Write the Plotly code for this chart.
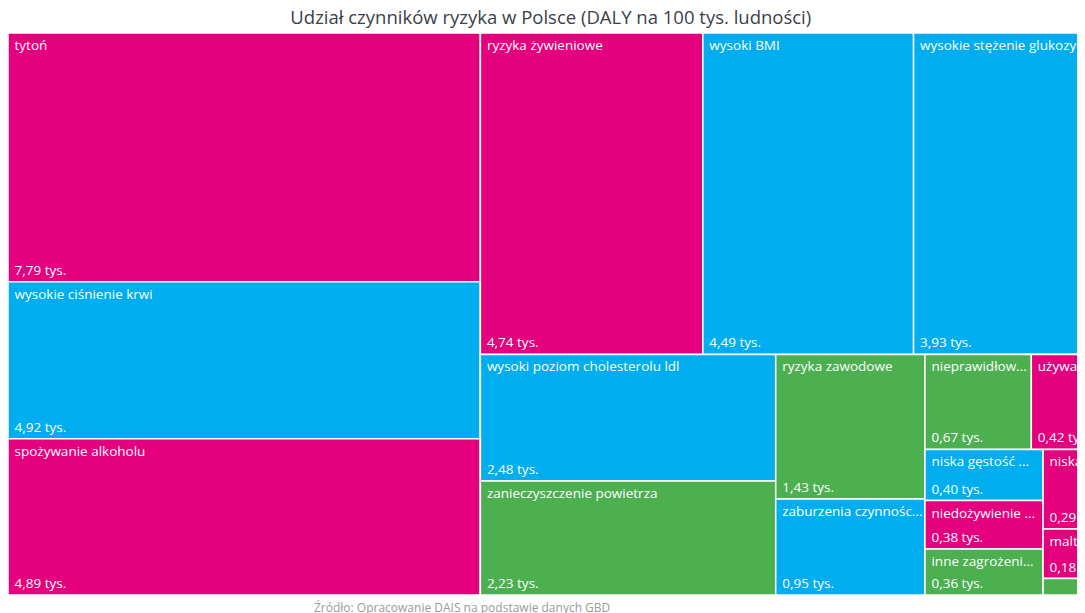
import plotly.graph_objects as go

###########################################################
# Data (DALY na 100 tys. ludności, w tys.)
###########################################################

labels = [
    "tytoń", "wysokie ciśnienie krwi", "spożywanie alkoholu",
    "ryzyka żywieniowe", "wysoki BMI", "wysokie stężenie glukozy ...",
    "wysoki poziom cholesterolu ldl", "zanieczyszczenie powietrza",
    "ryzyka zawodowe", "zaburzenia czynnośc...",
    "nieprawidłow...", "używa...",
    "niska gęstość ...", "niedożywienie ...", "inne zagrożeni...",
    "niska...", "maltr...", "", "",
]

values = [
    7.79, 4.92, 4.89,
    4.74, 4.49, 3.93,
    2.48, 2.23,
    1.43, 0.95,
    0.67, 0.42,
    0.40, 0.38, 0.36,
    0.29, 0.18, 0.04, 0.02,
]

categories = [
    "beh", "met", "beh",
    "beh", "met", "met",
    "met", "env",
    "env", "met",
    "env", "beh",
    "met", "beh", "env",
    "beh", "beh", "env", "beh",
]

colors = {"beh": "#E5007D", "met": "#00AEEF", "env": "#4CAF50"}

# grouping of tiles (rows / columns as in the original layout)
tree = ("g0", [
    ("g1", [0, 1, 2]),
    ("g2", [
        ("g2a", [3, 4, 5]),
        ("g2b", [
            ("g2b1", [6, 7]),
            ("g2b2", [8, 9]),
            ("g2b3", [
                ("g2b3a", [10, 11]),
                ("g2b3b", [
                    ("c1", [12, 13, 14]),
                    ("c2", [15, 16, ("s", [17, 18])]),
                ]),
            ]),
        ]),
    ]),
])

###########################################################
# Flatten tree
###########################################################

ids, parents, names, vals, fills, top_text, bottom_text = [], [], [], [], [], [], []


def walk(node, parent):
    if isinstance(node, tuple):
        gid, children = node
        ids.append(gid)
        parents.append(parent)
        names.append("")
        vals.append(0)
        fills.append("rgba(0,0,0,0)")
        top_text.append("")
        bottom_text.append("")
        for ch in children:
            walk(ch, gid)
    else:
        i = node
        ids.append("n%d" % i)
        parents.append(parent)
        names.append(labels[i])
        vals.append(values[i])
        fills.append(colors[categories[i]])
        if labels[i]:
            top_text.append("\u00a0" + labels[i])
            bottom_text.append("\u00a0" + ("%.2f" % values[i]).replace(".", ",") + " tys.")
        else:
            top_text.append("")
            bottom_text.append("")


walk(tree, "")

###########################################################
# Figure
###########################################################

common = dict(
    ids=ids,
    parents=parents,
    labels=names,
    values=vals,
    branchvalues="remainder",
    sort=False,
    tiling=dict(packing="slice-dice", pad=0),
    pathbar=dict(visible=False),
    root=dict(color="rgba(0,0,0,0)"),
    textfont=dict(family="Open Sans", size=13.5, color="white"),
    domain=dict(x=[0, 1], y=[0, 1]),
)

fig = go.Figure()

fig.add_trace(
    go.Treemap(
        **common,
        marker=dict(
            colors=fills,
            line=dict(color="white", width=1.5),
            pad=dict(t=0, l=0, r=0, b=0),
        ),
        texttemplate=top_text,
        textposition="top left",
        hovertemplate="%{label}<br>%{value:.2f} tys.<extra></extra>",
    )
)

fig.add_trace(
    go.Treemap(
        **common,
        marker=dict(
            colors=["rgba(0,0,0,0)"] * len(ids),
            line=dict(color="rgba(0,0,0,0)", width=0),
            pad=dict(t=0, l=0, r=0, b=0),
        ),
        texttemplate=bottom_text,
        textposition="bottom left",
        hoverinfo="skip",
    )
)

fig.update_layout(
    width=1090,
    height=605,
    paper_bgcolor="white",
    margin=dict(l=0, r=0, t=25, b=18),
    title=dict(
        text="Udział czynników ryzyka w Polsce (DALY na 100 tys. ludności)",
        x=0.498,
        xanchor="center",
        y=0.9835,
        yanchor="middle",
        font=dict(family="Open Sans", size=18.5, color="#3a3f4a"),
    ),
    uniformtext=dict(minsize=13.5, mode="show"),
    annotations=[
        dict(
            text="Źródło: Opracowanie DAIS na podstawie danych GBD",
            xref="paper",
            yref="paper",
            x=0.279,
            y=0,
            xanchor="left",
            yanchor="top",
            yshift=-2,
            showarrow=False,
            font=dict(family="Open Sans", size=12, color="#9a9a9a"),
        )
    ],
)

fig.write_html("out.html")
